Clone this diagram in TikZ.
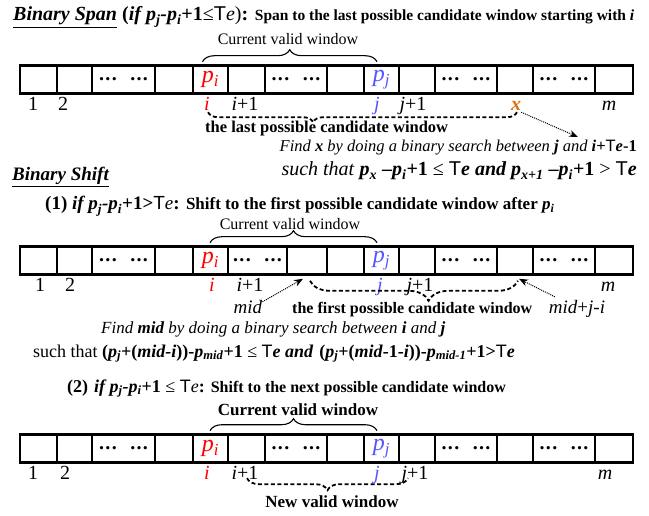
\documentclass[tikz,border=0pt]{standalone}
\usepackage{fontspec}
\setmainfont{Liberation Serif}
\newfontfamily\tsf{Liberation Sans}
\usetikzlibrary{decorations.pathreplacing,calc,arrows.meta}

\definecolor{pired}{RGB}{255,0,0}
\definecolor{pjblue}{RGB}{85,85,255}
\definecolor{xorange}{RGB}{228,108,10}

\newcommand\fs[1]{\fontsize{#1}{#1}\selectfont}
\newcommand\Tsym{{\tsf\mdseries\upshape T}}
\newcommand\sub[1]{\textsubscript{#1}}
\newcommand\dotgrp{\textbf{.\kern1.3pt.\kern1.3pt.}}
\newcommand\dotcell{\fs{20}\dotgrp\hspace{13.5pt}\dotgrp}
\newcommand\picell{\fs{24}\color{pired}\textit{p}\sub{\textit{i}}}
\newcommand\pjcell{\fs{24}\color{pjblue}\textit{p}\sub{\textit{j}}}
\newcommand\nocell{}

\begin{document}
\begin{tikzpicture}[x=1pt,y=-1pt,
  cell/.style={draw, line width=2.6pt, inner sep=0pt, minimum height=28pt},
  idx/.style={inner sep=0pt, anchor=base, font=\fs{20}, text height=14pt, text depth=0pt},
  txt/.style={inner sep=0pt, anchor=base west},
  capbrace/.style={decorate, decoration={brace, amplitude=12pt}, line width=1.1pt},
  winbrace/.style={decorate, line width=1.8pt, dash pattern=on 4pt off 2.5pt},
  hint/.style={densely dotted, line width=1pt, -{Stealth[length=9pt,width=7pt]}},
]
\useasboundingbox (0,0) rectangle (649,516);
\fill[white] (0,0) rectangle (649,516);

% ---------------- Binary Span ----------------
\node[txt] (title) at (13,21) {\fs{20}\textbf{\textit{\underline{Binary Span}}} \textbf{(\textit{if p\sub{j}-p\sub{i}}+1}≤\Tsym\textit{e})\textbf{:} \fs{15.5}\textbf{Span to the last possible candidate window starting with \textit{i}}};

\node[anchor=base, inner sep=0pt, font=\fs{16}] (cv1) at (288,45) {Current valid window};

\foreach \l/\r/\content [count=\k] in {20/57/\nocell, 57/92/\nocell, 92/155/\dotcell, 155/193/\nocell, 193/228/\picell, 228/265/\nocell, 265/327/\dotcell, 327/364/\nocell, 364/399/\pjcell, 399/435/\nocell, 435/497/\dotcell, 497/533/\nocell, 533/595/\dotcell, 595/633/\nocell}
{
  \pgfmathsetmacro\w{\r-\l}
  \pgfmathsetmacro\cx{(\l+\r)/2}
  \node[cell, minimum width=\w pt] (a\k) at (\cx,79.5) {\content};
}

\draw[capbrace] ($(a5.north)+(-8,-2.5)$) -- ($(a9.north)+(-4.5,-2.5)$);

\node[idx] (l1a) at (33,111) {1};
\node[idx] (l1b) at (63,111) {2};
\node[idx, text=pired] (l1i) at (207,111) {\textit{i}};
\node[idx] (l1ip) at (245,111) {\textit{i}+1};
\node[idx, text=pjblue] (l1j) at (377,111) {\textit{j}};
\node[idx] (l1jp) at (413,111) {\textit{j}+1};
\node[idx, text=xorange] (l1x) at (516,111) {\textbf{\textit{x}}};
\node[idx] (l1m) at (609,111) {\textit{m}};

\draw[winbrace, decoration={brace, mirror, amplitude=10pt, aspect=0.34}] ($(l1i.south)+(1,1)$) -- ($(l1x.south)+(1,1)$);
\node[txt, font=\fs{16.5}\bfseries] (lastwin) at (205,133) {the last possible candidate window};

\coordinate (fx) at (578,137);
\draw[hint] ($(l1x.south east)+(0,1)$) -- (fx);

\node[anchor=base east, inner sep=0pt, font=\fs{16.5}] (findx) at (637,152) {\itshape Find \textbf{x} by doing a binary search between \textbf{j} and \textbf{i}\textbf{\upshape +}\Tsym\textbf{e\upshape -1}};
\node[anchor=base east, inner sep=0pt, font=\fs{20}] (suchx) at (637,176) {\textit{such that} \textbf{\textit{p\sub{x}} –\textit{p\sub{i}}+1} ≤ \Tsym\textbf{\textit{e and p\sub{x+1}} –\textit{p\sub{i}}+1} > \Tsym\textbf{\textit{e}}};

% ---------------- Binary Shift ----------------
\node[txt, font=\fs{19}] (shift) at (12,181) {\textbf{\textit{\underline{Binary Shift}}}};

\node[txt, font=\fs{19}] (case1) at (45,210) {\textbf{(1) \textit{if p\sub{j}-p\sub{i}}+1>}\Tsym\textit{e}\textbf{:} \fs{17}\textbf{Shift to the first possible candidate window after \textit{p\sub{i}}}};

\node[anchor=base, inner sep=0pt, font=\fs{16}] (cv2) at (290,229.5) {Current valid window};

\foreach \l/\r/\content [count=\k] in {20/57/\nocell, 57/92/\nocell, 92/155/\dotcell, 155/193/\nocell, 193/228/\picell, 228/287/\dotcell, 287/327/\nocell, 327/364/\nocell, 364/399/\pjcell, 399/435/\nocell, 435/497/\dotcell, 497/533/\nocell, 533/595/\dotcell, 595/633/\nocell}
{
  \pgfmathsetmacro\w{\r-\l}
  \pgfmathsetmacro\cx{(\l+\r)/2}
  \node[cell, minimum width=\w pt] (b\k) at (\cx,260.5) {\content};
}

\draw[capbrace] ($(b5.north)+(-0.5,-2.5)$) -- ($(b9.north)+(-4.5,-2.5)$);

\node[idx] (l2a) at (40,292) {1};
\node[idx] (l2b) at (70,292) {2};
\node[idx, text=pired] (l2i) at (212,292) {\textit{i}};
\node[idx] (l2ip) at (250,292) {\textit{i}+1};
\node[idx, text=pjblue] (l2j) at (380,292) {\textit{j}};
\node[idx] (l2jp) at (420,292) {\textit{j}+1};
\node[idx] (l2m) at (608,292) {\textit{m}};

\node[idx, font=\fs{19}] (mid) at (248,313) {\textit{mid}};
\node[idx, font=\fs{19}] (midji) at (577,313) {\textit{mid}+\textit{j}-\textit{i}};

\coordinate (pm) at ($(b7.south)+(-4,3)$);
\coordinate (pq) at ($(b12.south)+(4,3)$);
\draw[hint] ($(mid.north east)+(0,3)$) -- (pm);
\draw[hint] ($(midji.north west)+(6,-2)$) -- (pq);

\draw[winbrace, decoration={brace, mirror, amplitude=20pt, aspect=0.57}] ($(pm)+(7,2)$) -- ($(pq)+(-1,2)$);
\node[txt, font=\fs{16}\bfseries] (firstwin) at (292,314) {the first possible candidate window};

\node[txt, font=\fs{17}] (findmid) at (101,334) {\itshape Find \textbf{mid} by doing a binary search between \textbf{i} and \textbf{j}};
\node[txt, font=\fs{18}] (suchmid) at (33,357) {such that \textbf{(\textit{p\sub{j}}+(\textit{mid-i}))-\textit{p\sub{mid}}+1} ≤ \Tsym\textbf{\textit{e and}}\hspace{6pt}\textbf{(\textit{p\sub{j}}+(\textit{mid}-1-\textit{i}))-\textit{p\sub{\textit{mid}-1}}+1>}\Tsym\textbf{\textit{e}}};

\node[txt, font=\fs{18}] (case2) at (67,392) {\textbf{(2)}\hspace{6pt}\textbf{\textit{if p\sub{j}-p\sub{i}}+1} ≤ \Tsym\textit{e}\textbf{:} \fs{16}\textbf{Shift to the next possible candidate window}};

\node[anchor=base, inner sep=0pt, font=\fs{17}\bfseries] (cv3) at (298,415) {Current valid window};

\foreach \l/\r/\content [count=\k] in {20/57/\nocell, 57/92/\nocell, 92/155/\dotcell, 155/193/\nocell, 193/228/\picell, 228/265/\nocell, 265/327/\dotcell, 327/364/\nocell, 364/399/\pjcell, 399/435/\nocell, 435/497/\dotcell, 497/533/\nocell, 533/595/\dotcell, 595/633/\nocell}
{
  \pgfmathsetmacro\w{\r-\l}
  \pgfmathsetmacro\cx{(\l+\r)/2}
  \node[cell, minimum width=\w pt] (c\k) at (\cx,448.5) {\content};
}

\draw[capbrace] ($(c5.north)+(-0.5,-2.5)$) -- ($(c9.north)+(-4.5,-2.5)$);

\node[idx] (l3a) at (33,479) {1};
\node[idx] (l3b) at (65,479) {2};
\node[idx, text=pired] (l3i) at (207,479) {\textit{i}};
\node[idx] (l3ip) at (245,479) {\textit{i}+1};
\node[idx, text=pjblue] (l3j) at (377,479) {\textit{j}};
\node[idx] (l3jp) at (415,479) {\textit{j}+1};
\node[idx] (l3m) at (605,479) {\textit{m}};

\draw[winbrace, decoration={brace, mirror, amplitude=12pt}] ($(l3ip.south)+(2,-1)$) -- ($(l3jp.south)+(-7,-1)$);
\node[anchor=base, inner sep=0pt, font=\fs{17}\bfseries] (newwin) at (332,507) {New valid window};

\end{tikzpicture}
\end{document}
